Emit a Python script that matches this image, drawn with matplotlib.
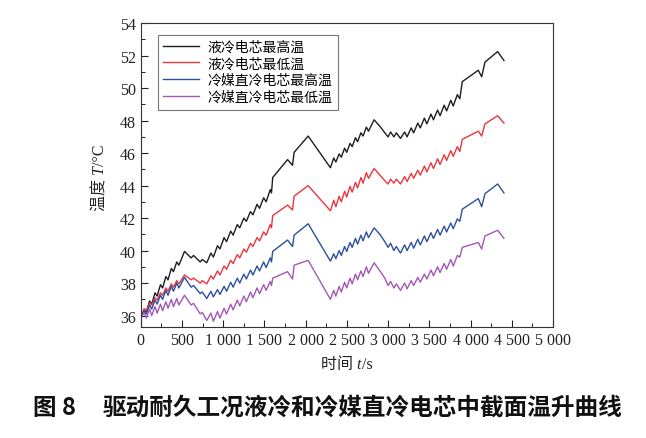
import numpy as np
import matplotlib
matplotlib.use("Agg")
import matplotlib.pyplot as plt
from matplotlib.ticker import MultipleLocator, FuncFormatter

plt.rcParams['font.family'] = ['Liberation Serif', 'Noto Sans CJK SC']
plt.rcParams['axes.unicode_minus'] = False

# time vertices (s), shared by all four curves
t = [0, 40, 66, 106, 132, 172, 198, 238, 264, 304, 330, 370, 396, 436, 462, 530,
     610, 640, 720, 745, 800,
     850, 880, 930, 960, 1010, 1040, 1090, 1120, 1170, 1200, 1250, 1280, 1330, 1360, 1410, 1440, 1490, 1520, 1570, 1585,
     1600, 1780, 1840, 1860, 2030, 2300,
     2340, 2366, 2406, 2432, 2472, 2498, 2538, 2564, 2604, 2630, 2670, 2696, 2736, 2762, 2830,
     2900, 2960, 3000, 3030, 3070, 3100, 3150,
     3200, 3230, 3280, 3310, 3360, 3390, 3440, 3470, 3520, 3550, 3600, 3630, 3680, 3710, 3760, 3790, 3840, 3870,
     3900, 4094, 4135, 4175, 4329, 4405]

liq_max = [35.8, 36.4, 36.2, 36.9, 36.7, 37.4, 37.2, 37.9, 37.7, 38.4, 38.2, 38.9, 38.7, 39.3, 39.1, 39.95,
           39.55, 39.7, 39.3, 39.45, 39.25,
           39.85, 39.6, 40.3, 40.1, 40.8, 40.55, 41.2, 40.95, 41.6, 41.4, 42.0, 41.8, 42.4, 42.2, 42.85, 42.6, 43.25, 43.0, 43.75, 43.55,
           44.5, 45.6, 45.25, 46.05, 47.05, 45.1,
           45.7, 45.45, 45.95, 45.75, 46.3, 46.05, 46.6, 46.4, 46.95, 46.7, 47.25, 47.05, 47.6, 47.35, 48.05,
           47.65, 47.25, 47.0, 47.3, 47.0, 47.25, 46.9,
           47.3, 47.0, 47.55, 47.25, 47.85, 47.55, 48.15, 47.8, 48.4, 48.05, 48.65, 48.3, 48.95, 48.6, 49.25, 48.9, 49.6, 49.35,
           50.4, 51.1, 50.7, 51.6, 52.25, 51.7]

liq_min = [35.9, 36.4, 36.3, 36.8, 36.65, 37.1, 36.95, 37.4, 37.25, 37.7, 37.5, 37.95, 37.75, 38.15, 37.95, 38.5,
           38.2, 38.3, 38.0, 38.15, 37.95,
           38.45, 38.25, 38.75, 38.5, 39.05, 38.85, 39.4, 39.2, 39.75, 39.55, 40.1, 39.9, 40.45, 40.25, 40.8, 40.6, 41.15, 40.95, 41.6, 41.4,
           42.15, 42.8, 42.5, 43.35, 44.0, 42.45,
           43.1, 42.7, 43.35, 43.0, 43.65, 43.3, 43.95, 43.6, 44.2, 43.85, 44.5, 44.15, 44.8, 44.45, 45.05,
           44.65, 44.3, 44.1, 44.4, 44.15, 44.4, 44.1,
           44.55, 44.25, 44.75, 44.45, 44.95, 44.65, 45.2, 44.85, 45.4, 45.05, 45.65, 45.3, 45.9, 45.55, 46.15, 45.8, 46.4, 46.1,
           46.85, 47.35, 47.05, 47.8, 48.3, 47.85]

ref_max = [35.9, 36.3, 36.1, 36.65, 36.4, 36.95, 36.7, 37.25, 37.0, 37.55, 37.25, 37.8, 37.5, 38.0, 37.7, 38.35,
           37.75, 37.85, 37.35, 37.45, 37.05,
           37.5, 37.15, 37.6, 37.3, 37.8, 37.5, 38.05, 37.75, 38.3, 38.0, 38.55, 38.25, 38.8, 38.5, 39.05, 38.75, 39.3, 38.95, 39.55, 39.3,
           39.95, 40.65, 40.25, 40.95, 41.65, 39.35,
           39.8, 39.5, 40.0, 39.7, 40.25, 39.95, 40.5, 40.2, 40.75, 40.4, 40.95, 40.6, 41.15, 40.8, 41.4,
           41.0, 40.55, 40.2, 40.45, 40.0, 40.25, 39.85,
           40.35, 40.0, 40.5, 40.15, 40.7, 40.35, 40.9, 40.55, 41.1, 40.75, 41.3, 40.95, 41.5, 41.15, 41.7, 41.35, 41.95, 41.8,
           42.55, 43.2, 42.7, 43.5, 44.1, 43.55]

ref_min = [35.8, 36.2, 35.85, 36.4, 36.0, 36.55, 36.15, 36.7, 36.3, 36.85, 36.45, 37.0, 36.55, 37.05, 36.65, 37.25,
           36.65, 36.75, 36.1, 36.2, 35.7,
           36.15, 35.65, 36.25, 35.85, 36.45, 36.1, 36.7, 36.35, 36.95, 36.6, 37.2, 36.85, 37.45, 37.1, 37.7, 37.35, 37.9, 37.55, 38.1, 37.85,
           38.3, 38.7, 38.25, 39.1, 39.4, 37.0,
           37.55, 37.2, 37.8, 37.45, 38.05, 37.7, 38.3, 37.95, 38.55, 38.2, 38.75, 38.4, 39.0, 38.6, 39.25,
           38.75, 38.3, 37.85, 38.1, 37.7, 37.95, 37.55,
           38.0, 37.65, 38.15, 37.85, 38.35, 38.05, 38.55, 38.25, 38.8, 38.45, 39.0, 38.65, 39.2, 38.85, 39.45, 39.05, 39.7, 39.6,
           40.2, 40.5, 40.1, 40.9, 41.25, 40.75]

labels = ["液冷电芯最高温", "液冷电芯最低温", "冷媒直冷电芯最高温", "冷媒直冷电芯最低温"]
colors = ["#1e1e1e", "#e8363f", "#2c4f9e", "#a457b4"]

fig = plt.figure(figsize=(6.46, 4.39), dpi=100)
ax = fig.add_axes([0.218, 0.253, 0.638, 0.692])

for ys, lab, col in zip([liq_max, liq_min, ref_max, ref_min], labels, colors):
    ax.plot(t, ys, color=col, lw=1.0, label=lab)

ax.set_xlim(0, 5000)
ax.set_ylim(35.3, 54)
ax.xaxis.set_major_locator(MultipleLocator(500))
ax.xaxis.set_minor_locator(MultipleLocator(250))
ax.yaxis.set_major_locator(MultipleLocator(2))
ax.yaxis.set_minor_locator(MultipleLocator(1))
ax.xaxis.set_major_formatter(FuncFormatter(
    lambda v, p: ("%d %03d" % (v // 1000, v % 1000)) if v >= 1000 else "%d" % v))
ax.tick_params(which='both', direction='in', top=False, right=False, labelsize=11.5, colors='#222222')
ax.tick_params(which='major', length=5, width=0.8)
ax.tick_params(which='minor', length=3, width=0.7)
for s in ax.spines.values():
    s.set_color('#333333')
    s.set_linewidth(0.8)

# move the "0" label a bit left of the corner
fig.canvas.draw()
xl = ax.get_xticklabels()
xl[0].set_horizontalalignment('right')

# axis labels: italic symbol + upright unit, chained text pieces
lab_style = {'fontsize': 11.5, 'color': '#222222'}
xl1 = fig.text(0.497, 0.169, "时间 t", style='italic', ha='left', va='center', **lab_style)
ax.annotate("/s", xy=(1, 0), xycoords=xl1, ha='left', va='bottom', **lab_style)
yl1 = fig.text(0.155, 0.52, "温度 T", style='italic', rotation=90, ha='center', va='bottom', **lab_style)
ax.annotate("/°C", xy=(0, 1), xycoords=yl1, ha='left', va='bottom', rotation=90, **lab_style)

leg = ax.legend(loc='upper left', bbox_to_anchor=(0.041, 0.962), borderaxespad=0,
                fontsize=10, frameon=True, fancybox=False, handlelength=2.6,
                handletextpad=0.6, labelspacing=0.25, borderpad=0.4)
leg.get_frame().set_edgecolor('#555555')
leg.get_frame().set_linewidth(0.8)

fig.text(0.051, 0.071, "图 8", fontsize=17, family=['Noto Sans CJK SC', 'Liberation Serif'],
         va='center', ha='left', color='#111111', weight='bold')
fig.text(0.159, 0.071, "驱动耐久工况液冷和冷媒直冷电芯中截面温升曲线", fontsize=17,
         family=['Noto Sans CJK SC'], va='center', ha='left', color='#111111', weight='bold')

fig.savefig("out.png", dpi=100)
